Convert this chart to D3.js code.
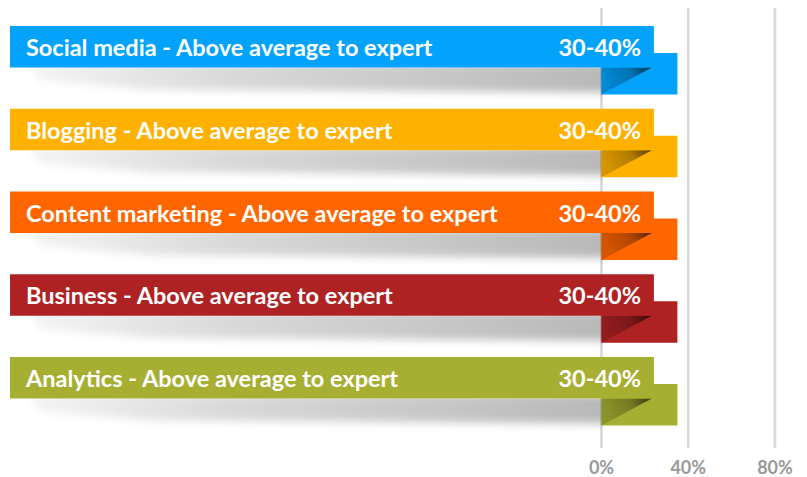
<!DOCTYPE html>
<html>
<head>
<meta charset="utf-8">
<script src="https://cdn.jsdelivr.net/npm/d3@7"></script>
<style>
  html, body { margin: 0; padding: 0; background: #fff; }
  svg { display: block; }
  text { font-family: Lato, "Open Sans", sans-serif; font-weight: 700; }
</style>
</head>
<body>
<svg id="chart" width="807" height="477"></svg>
<script>
// Skill areas and the share of respondents at each level
const categories = ["Social media", "Blogging", "Content marketing", "Business", "Analytics"];
const levels = ["Above average to expert", "Above average to expert", "Above average to expert", "Above average to expert", "Above average to expert"];
const rangeLabels = ["30-40%", "30-40%", "30-40%", "30-40%", "30-40%"];
const values = [35, 35, 35, 35, 35];           // midpoint of the stated range
const colors = ["#03A3FC", "#FFB100", "#FF6600", "#AE2224", "#A7AF32"];
const tickValues = [0, 40, 80];
const tickLabels = ["0%", "40%", "80%"];

const svg = d3.select("#chart");
const defs = svg.append("defs");

const x = d3.scaleLinear().domain([0, 80]).range([601.5, 775]);
const y = d3.scaleBand().domain(categories).range([26, 26 + 5 * 82.75]).padding(0);

const ribbonH = 41.5;
const drop = 27;           // vertical offset of the folded end
const ribbonLeft = 10;

// gridlines
svg.append("g").selectAll("line")
  .data(tickValues)
  .join("line")
  .attr("x1", d => x(d)).attr("x2", d => x(d))
  .attr("y1", 8).attr("y2", 448)
  .attr("stroke", "#dadada")
  .attr("stroke-width", 2.7);

// axis labels
svg.append("g").selectAll("text")
  .data(tickValues)
  .join("text")
  .attr("x", d => x(d))
  .attr("y", 474)
  .attr("text-anchor", "middle")
  .attr("font-size", 18)
  .attr("fill", "#999999")
  .text((d, i) => tickLabels[i]);

// soft drop shadow under each ribbon
const blur = defs.append("filter").attr("id", "shadowBlur")
  .attr("x", "-10%").attr("y", "-50%").attr("width", "120%").attr("height", "200%");
blur.append("feGaussianBlur").attr("stdDeviation", "3 4");

const shadowGrad = defs.append("linearGradient").attr("id", "shadowGrad")
  .attr("x1", 0).attr("x2", 1).attr("y1", 0).attr("y2", 0);
shadowGrad.append("stop").attr("offset", "0").attr("stop-color", "#000").attr("stop-opacity", 0.04);
shadowGrad.append("stop").attr("offset", "0.35").attr("stop-color", "#000").attr("stop-opacity", 0.15);
shadowGrad.append("stop").attr("offset", "1").attr("stop-color", "#000").attr("stop-opacity", 0.28);

const rows = svg.append("g").selectAll("g.row")
  .data(categories.map((c, i) => ({ c, i, v: values[i], color: colors[i] })))
  .join("g").attr("class", "row");

rows.each(function (d) {
  const g = d3.select(this);
  const top = y(d.c);
  const bottom = top + ribbonH;
  const x0 = x(0);
  const xEnd = x(d.v);
  const ribbonRight = xEnd - 23.5;

  // keep the shadow below the ribbon and left of the fold
  const clipId = "clip" + d.i;
  defs.append("clipPath").attr("id", clipId)
    .append("rect").attr("x", 0).attr("y", bottom).attr("width", x0 + 1).attr("height", 40);

  g.append("path")
    .attr("clip-path", `url(#${clipId})`)
    .attr("filter", "url(#shadowBlur)")
    .attr("fill", "url(#shadowGrad)")
    .attr("d", `M${ribbonLeft + 18},${bottom - 4} L${x0 + 10},${bottom - 4} L${x0 + 10},${bottom + 25} L${ribbonLeft + 140},${bottom + 22} L${ribbonLeft + 30},${bottom + 13} Z`);

  // folded end: value bar, dropped below the ribbon
  g.append("rect")
    .attr("x", x0).attr("y", top + drop)
    .attr("width", xEnd - x0).attr("height", ribbonH)
    .attr("fill", d.color);

  // fold shading
  const c = d3.color(d.color);
  const gradId = "fold" + d.i;
  const fg = defs.append("linearGradient").attr("id", gradId)
    .attr("gradientUnits", "userSpaceOnUse")
    .attr("x1", ribbonRight - 2).attr("y1", bottom)
    .attr("x2", x0 + 8).attr("y2", top + drop + ribbonH - 6);
  fg.append("stop").attr("offset", "0").attr("stop-color", c.darker(3.2));
  fg.append("stop").attr("offset", "0.45").attr("stop-color", c.darker(1.0));
  fg.append("stop").attr("offset", "1").attr("stop-color", c.darker(0.5));

  g.append("path")
    .attr("d", `M${x0},${bottom} L${ribbonRight - 2},${bottom} L${x0},${top + drop + ribbonH} Z`)
    .attr("fill", `url(#${gradId})`);

  // main ribbon
  g.append("rect")
    .attr("x", ribbonLeft).attr("y", top)
    .attr("width", ribbonRight - ribbonLeft).attr("height", ribbonH)
    .attr("fill", d.color);

  g.append("text")
    .attr("x", 26).attr("y", top + 30)
    .attr("font-size", 23.5)
    .attr("fill", "#fff")
    .text(`${d.c} - ${levels[d.i]}`);

  g.append("text")
    .attr("x", 641).attr("y", top + 30)
    .attr("text-anchor", "end")
    .attr("font-size", 23.5)
    .attr("fill", "#fff")
    .text(rangeLabels[d.i]);
});
</script>
</body>
</html>
